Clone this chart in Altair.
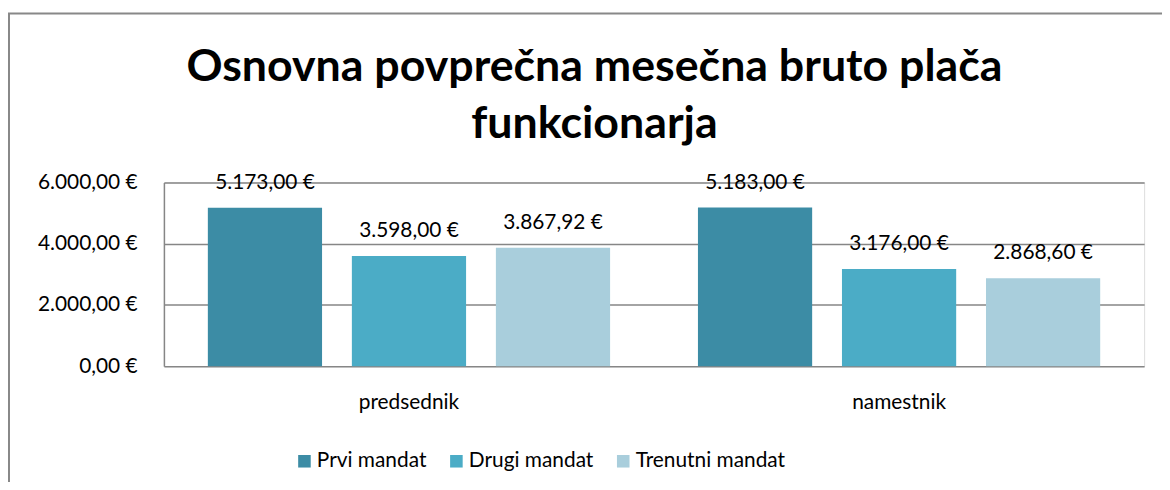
import altair as alt
import pandas as pd

categories = ["predsednik", "namestnik"]
series = ["Prvi mandat", "Drugi mandat", "Trenutni mandat"]
prvi = [5173.00, 5183.00]
drugi = [3598.00, 3176.00]
trenutni = [3867.92, 2868.60]
colors = ["#3C8CA5", "#4BACC6", "#A9CEDC"]
title_lines = ["Osnovna povprečna mesečna bruto plača", "funkcionarja"]
y_ticks = [0, 2000, 4000, 6000]

rows = []
for i, c in enumerate(categories):
    for s, vals in zip(series, [prvi, drugi, trenutni]):
        rows.append({"funkcija": c, "mandat": s, "placa": vals[i]})
df = pd.DataFrame(rows)

FONT = "Lato"
eur = "replace(replace(replace(format({v}, ',.2f'), ',', '#'), '.', ','), '#', '.') + ' €'"

base = alt.Chart(df).encode(
    x=alt.X("funkcija:N", sort=categories,
            scale=alt.Scale(paddingInner=0, paddingOuter=0),
            axis=alt.Axis(title=None, labelAngle=0, ticks=False, domain=False,
                          labelPadding=26, labelFontSize=21, labelFont=FONT,
                          labelColor="#000000")),
    xOffset=alt.XOffset("mandat:N", sort=series,
                        scale=alt.Scale(paddingInner=0.207, paddingOuter=0.305)),
)

bars = base.mark_bar().encode(
    y=alt.Y("placa:Q", scale=alt.Scale(domain=[0, 6000], nice=False),
            axis=alt.Axis(title=None, values=y_ticks, ticks=False,
                          labelExpr=eur.format(v="datum.value"),
                          labelPadding=27, labelFontSize=21, labelFont=FONT,
                          labelColor="#000000", domain=True,
                          domainColor="#868686", domainWidth=1.5,
                          grid=True, gridColor="#868686", gridWidth=1.5)),
    color=alt.Color("mandat:N", sort=series,
                    scale=alt.Scale(domain=series, range=colors),
                    legend=alt.Legend(title=None, orient="none", direction="horizontal",
                                      legendX=131, legendY=270,
                                      symbolType="square", symbolSize=160,
                                      symbolStrokeWidth=0,
                                      labelFontSize=21, labelFont=FONT,
                                      labelColor="#000000", columnPadding=19,
                                      labelOffset=2)),
)

labels = base.transform_calculate(
    lab=eur.format(v="datum.placa")
).mark_text(baseline="alphabetic", dy=-19, fontSize=21, font=FONT, color="#000000").encode(
    y=alt.Y("placa:Q"),
    text="lab:N",
)

frame_left = alt.Chart(pd.DataFrame({"k": [0]})).mark_rule(
    color="#888888", strokeWidth=2
).encode(x=alt.value(-156), y=alt.value(-170), y2=alt.value(400))
frame_top = alt.Chart(pd.DataFrame({"k": [0]})).mark_rule(
    color="#888888", strokeWidth=2
).encode(x=alt.value(-157), x2=alt.value(1100), y=alt.value(-170))

chart = alt.layer(bars, labels, frame_left, frame_top).properties(
    width=987, height=185,
    title=alt.TitleParams(text=title_lines, fontSize=45, font=FONT, fontWeight="bold",
                          color="#000000", anchor="middle", frame="group",
                          dx=-60, dy=145, lineHeight=57, offset=10),
    autosize=alt.AutoSizeParams(type="none"),
    padding={"left": 157, "top": 174, "right": 18, "bottom": 115},
).configure_view(stroke=None).configure(background="#ffffff")

chart.save("out.html", embed_options={"renderer": "svg", "actions": False})
